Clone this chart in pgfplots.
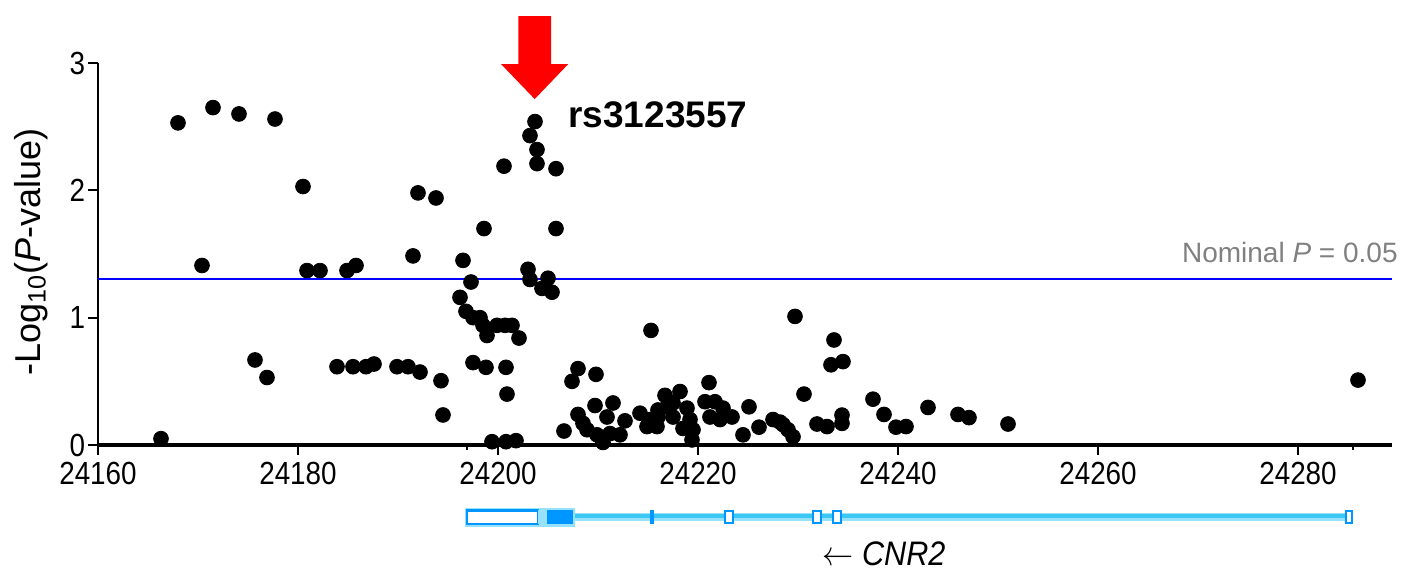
\documentclass[border=0pt]{standalone}
\usepackage{pgfplots}
\pgfplotsset{compat=1.18}
\usepackage{fontspec}
\setmainfont{Liberation Sans}
\definecolor{genelight}{RGB}{150,226,252}
\definecolor{genemid}{RGB}{60,200,245}
\definecolor{genedark}{RGB}{0,150,255}
\definecolor{nomgray}{RGB}{128,128,128}

\begin{document}
\begin{tikzpicture}
\begin{axis}[
  scale only axis,
  width=647pt, height=191pt,
  xmin=24160, xmax=24289.4,
  ymin=0, ymax=3,
  clip=false,
  axis x line*=bottom,
  axis y line*=left,
  x axis line style={line width=2pt},
  y axis line style={line width=1pt},
  tick align=outside,
  major tick length=5pt,
  xtick={24160,24180,...,24280},
  ytick={0,1,2,3},
  scaled x ticks=false,
  tick label style={font=\fontsize{16}{18}\selectfont, xscale=0.87, inner sep=1.5pt},
  xticklabel style={yshift=-2pt, /pgf/number format/.cd, fixed, precision=0, set thousands separator={}},
  yticklabel style={inner ysep=0pt},
  xtick style={line width=1.4pt, black},
  ytick style={line width=1pt, black},
  extra x ticks={24196.9,24285.5},
  extra x tick labels={},
  extra x tick style={major tick length=2.5pt, xtick style={line width=1pt}},
  /pgf/number format/assume math mode=true,
  /pgf/number format/set thousands separator={},
  ylabel={-Log\textsubscript{10}(\textit{P}-value)},
  ylabel style={font=\fontsize{18}{20}\selectfont, at={(axis description cs:-0.052,0.505)}, anchor=center, rotate=0},
]
% page frame
\path (axis cs:24150.2,-0.99) rectangle (axis cs:24290.5,3.495);

% nominal significance line
\addplot[blue, line width=1pt] coordinates {(24160,1.301) (24289.4,1.301)};
\node[anchor=base east, inner sep=0, text=nomgray, font=\fontsize{14}{16}\selectfont]
  at (axis cs:24290.0,1.437) {Nominal \textit{P} = 0.05};

% SNP -log10 P values
\addplot[only marks, mark=*, mark size=3.7pt, black] coordinates {
(24166.3,0.05) (24168.0,2.53) (24171.5,2.65) (24174.1,2.60) (24177.7,2.56)
(24180.5,2.03) (24192.0,1.98) (24193.8,1.94) (24170.4,1.41) (24180.9,1.37)
(24182.2,1.37) (24184.9,1.37) (24185.8,1.41) (24191.5,1.485) (24196.5,1.45)
(24175.7,0.668) (24176.9,0.53) (24183.9,0.615) (24185.5,0.615) (24186.8,0.615)
(24187.6,0.636) (24189.9,0.615) (24191.0,0.615) (24192.2,0.573) (24194.3,0.505)
(24194.5,0.236)
(24203.7,2.54) (24203.2,2.43) (24203.9,2.32) (24203.9,2.21) (24200.6,2.19)
(24205.8,2.17) (24198.6,1.70) (24205.8,1.70) (24203.0,1.38) (24203.2,1.30)
(24204.4,1.23) (24205.0,1.31) (24205.4,1.20) (24197.3,1.28) (24196.2,1.16)
(24196.8,1.05) (24197.5,1.00) (24198.2,1.00) (24198.5,0.94) (24198.9,0.86)
(24199.9,0.94) (24200.7,0.94) (24201.4,0.94) (24202.1,0.84) (24197.5,0.647)
(24198.8,0.61) (24200.8,0.61) (24200.9,0.40) (24199.4,0.026) (24200.8,0.026)
(24201.8,0.034)
(24208.0,0.60) (24207.4,0.50) (24209.8,0.555) (24209.7,0.31) (24211.5,0.33)
(24208.0,0.24) (24206.6,0.11) (24215.3,0.90) (24229.7,1.01) (24233.6,0.825)
(24233.3,0.63) (24234.5,0.655) (24221.1,0.49) (24230.6,0.40) (24225.1,0.30)
(24210.9,0.22) (24212.7,0.19) (24210.5,0.02) (24208.9,0.12) (24209.9,0.08)
(24211.2,0.09) (24212.2,0.08) (24208.5,0.17) (24214.2,0.25) (24215.2,0.20)
(24216.0,0.275) (24214.9,0.145) (24215.9,0.145) (24216.7,0.39) (24218.2,0.42)
(24216.9,0.30) (24217.5,0.33) (24218.9,0.29) (24219.2,0.20) (24218.5,0.13)
(24219.5,0.12) (24219.4,0.04) (24216.0,0.22) (24217.5,0.22) (24220.7,0.34)
(24221.7,0.34) (24222.5,0.29) (24223.4,0.22) (24222.2,0.20) (24221.2,0.22)
(24224.5,0.08) (24226.1,0.14) (24227.5,0.20) (24228.5,0.16) (24229.0,0.12)
(24229.5,0.065) (24228.2,0.18) (24231.9,0.165) (24232.9,0.145) (24234.4,0.235)
(24234.4,0.17) (24237.5,0.36) (24238.6,0.24) (24239.8,0.14) (24240.8,0.145)
(24243.0,0.295) (24246.0,0.24) (24247.1,0.215) (24251.0,0.165) (24286.0,0.51)
};

% lead SNP arrow and label
\fill[red] (axis cs:24202.03,3.369) -- (axis cs:24205.3,3.369) -- (axis cs:24205.3,2.992)
  -- (axis cs:24207.03,2.992) -- (axis cs:24203.67,2.717) -- (axis cs:24200.3,2.992)
  -- (axis cs:24202.03,2.992) -- cycle;
\node[anchor=west, inner sep=0, font=\bfseries\fontsize{18.5}{20}\selectfont]
  at (axis cs:24207.0,2.59) {rs3123557};

% CNR2 gene model
\addplot[genelight, line width=3.6pt] coordinates {(24204.0,-0.566) (24285.1,-0.566)};
\addplot[genemid, line width=1.8pt] coordinates {(24204.0,-0.556) (24285.1,-0.556)};
\draw[genelight, line width=2pt] (axis cs:24196.9,-0.625) rectangle (axis cs:24207.5,-0.507);
\draw[genedark, line width=1.2pt, fill=white] (axis cs:24196.9,-0.618) rectangle (axis cs:24204.0,-0.514);
\fill[genelight] (axis cs:24204.0,-0.618) rectangle (axis cs:24204.9,-0.514);
\fill[genedark] (axis cs:24204.9,-0.618) rectangle (axis cs:24207.5,-0.514);
\fill[genedark] (axis cs:24215.2,-0.618) rectangle (axis cs:24215.6,-0.514);
\draw[genedark, line width=1pt, fill=white] (axis cs:24222.7,-0.610) rectangle (axis cs:24223.5,-0.522);
\draw[genedark, line width=1pt, fill=white] (axis cs:24231.5,-0.610) rectangle (axis cs:24232.3,-0.522);
\draw[genedark, line width=1pt, fill=white] (axis cs:24233.5,-0.610) rectangle (axis cs:24234.3,-0.522);
\draw[genedark, line width=1pt, fill=white] (axis cs:24284.8,-0.610) rectangle (axis cs:24285.4,-0.522);
\node[anchor=base, inner sep=0, font=\fontsize{17}{19}\selectfont, xscale=0.9]
  at (axis cs:24238.6,-0.945) {$\leftarrow$\ \textit{CNR2}};
\end{axis}
\end{tikzpicture}
\end{document}
